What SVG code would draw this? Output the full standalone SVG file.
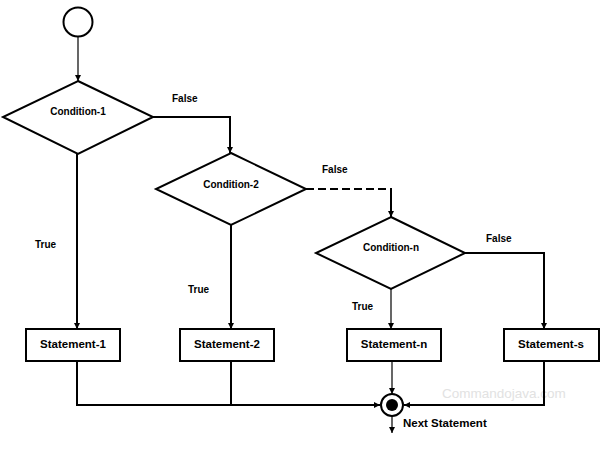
<svg xmlns="http://www.w3.org/2000/svg" width="606" height="460" viewBox="0 0 606 460">
<style>
  .shape{fill:#fff;stroke:#000;stroke-width:2}
  .c{fill:none;stroke:#000;stroke-width:2;stroke-linejoin:miter}
  .thin{fill:none;stroke:#000;stroke-width:1.2}
  .dash{stroke-dasharray:8 4}
  .cond{font-family:"Liberation Sans",Arial,sans-serif;font-weight:bold;font-size:10px;text-anchor:middle;fill:#000}
  .stmt{font-family:"Liberation Sans",Arial,sans-serif;font-weight:bold;font-size:11.5px;text-anchor:middle;fill:#000}
  .lbl{font-family:"Liberation Sans",Arial,sans-serif;font-weight:bold;font-size:10px;fill:#000}
  .next{font-family:"Liberation Sans",Arial,sans-serif;font-weight:bold;font-size:11.5px;fill:#000}
  .wm{font-family:"Liberation Sans",Arial,sans-serif;font-size:13.5px;fill:#e2e2e2}
</style>
<defs>
  <marker id="arr" markerUnits="userSpaceOnUse" markerWidth="7" markerHeight="7" refX="6" refY="3" orient="auto">
    <path d="M0,0 L6,3 L0,6 z" fill="#000"/>
  </marker>
</defs>
<rect width="606" height="460" fill="#fff"/>
<text class="wm" x="442" y="398">Commandojava.com</text>
<g id="connectors">
  <line class="thin" x1="78" y1="37" x2="78" y2="81" marker-end="url(#arr)"/>
  <polyline class="c" points="153,117 230,117 230,153" marker-end="url(#arr)"/>
  <line class="c" x1="77" y1="154" x2="77" y2="329" marker-end="url(#arr)"/>
  <line class="c dash" x1="306" y1="189" x2="391" y2="189"/>
  <line class="c" x1="391" y1="188" x2="391" y2="217" marker-end="url(#arr)"/>
  <line class="c" x1="231" y1="225" x2="231" y2="329" marker-end="url(#arr)"/>
  <polyline class="c" points="465,253 544,253 544,329" marker-end="url(#arr)"/>
  <line class="thin" x1="391" y1="289" x2="391" y2="329" marker-end="url(#arr)"/>
  <polyline class="c" points="77,361 77,405 380,405" marker-end="url(#arr)"/>
  <line class="c" x1="231" y1="361" x2="231" y2="405"/>
  <line class="thin" x1="392" y1="361" x2="392" y2="394" marker-end="url(#arr)"/>
  <polyline class="c" points="544,361 544,405 404,405" marker-end="url(#arr)"/>
  <line class="thin" x1="392" y1="416" x2="392" y2="433" marker-end="url(#arr)"/>
  <text class="lbl" x="172" y="102">False</text>
  <text class="lbl" x="35" y="248">True</text>
  <text class="lbl" x="322" y="173">False</text>
  <text class="lbl" x="188" y="293">True</text>
  <text class="lbl" x="486" y="242">False</text>
  <text class="lbl" x="352" y="310">True</text>
</g>
<g id="start">
  <circle class="shape" cx="78" cy="22" r="14.5"/>
</g>
<g id="condition1">
  <polygon class="shape" points="78,81 153,117 78,154 3,117"/>
  <text class="cond" x="78" y="115">Condition-1</text>
</g>
<g id="condition2">
  <polygon class="shape" points="231,153 306,189 231,225 156,189"/>
  <text class="cond" x="231" y="188">Condition-2</text>
</g>
<g id="conditionN">
  <polygon class="shape" points="391,217 465,253 391,289 316,253"/>
  <text class="cond" x="391" y="251">Condition-n</text>
</g>
<g id="statement1">
  <rect class="shape" x="26" y="329" width="94" height="32"/>
  <text class="stmt" x="73" y="348">Statement-1</text>
</g>
<g id="statement2">
  <rect class="shape" x="180" y="329" width="94" height="32"/>
  <text class="stmt" x="227" y="348">Statement-2</text>
</g>
<g id="statementN">
  <rect class="shape" x="347" y="329" width="94" height="32"/>
  <text class="stmt" x="394" y="348">Statement-n</text>
</g>
<g id="statementS">
  <rect class="shape" x="504" y="329" width="95" height="32"/>
  <text class="stmt" x="551" y="348">Statement-s</text>
</g>
<g id="end">
  <circle class="shape" cx="392" cy="405" r="11" stroke-width="2.5"/>
  <circle cx="392" cy="405" r="6" fill="#000"/>
  <text class="next" x="403" y="427">Next Statement</text>
</g>
</svg>
